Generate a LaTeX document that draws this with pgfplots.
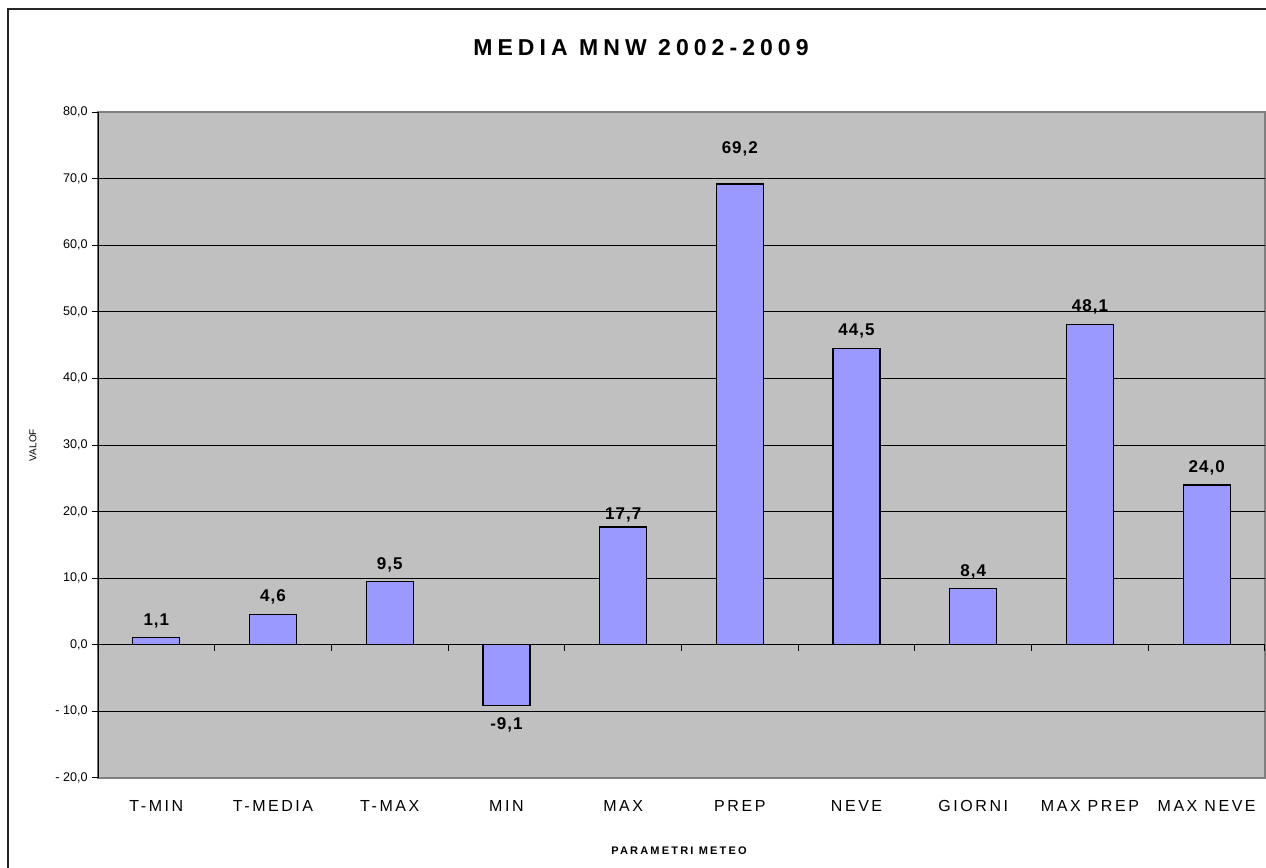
\documentclass[border=0pt]{standalone}
\usepackage{fontspec}
\setmainfont{Liberation Sans}
\usepackage{pgfplots}
\pgfplotsset{compat=1.18}
\usepackage{pgfplotstable}

\definecolor{plotbg}{HTML}{C0C0C0}
\definecolor{barfill}{HTML}{9999FF}
\definecolor{framegray}{HTML}{808080}

% x: category index, y: mean value, off: label offset above/below the bar (pt)
\pgfplotstableread{
x y off
0 1.1 8.5
1 4.6 8.5
2 9.5 8.5
3 -9.1 -9.5
4 17.7 6
5 69.2 17.5
6 44.5 8.5
7 8.4 8.5
8 48.1 9
9 24.0 8.5
}\meteodata

\begin{document}
\begin{tikzpicture}[x=1pt,y=1pt]
\clip (0,0) rectangle (633,434);
\fill[white] (0,0) rectangle (633,434);
\draw[line width=1pt, black!85] (4,-20) rectangle (660,429.5);

\begin{axis}[
  at={(49pt,45pt)}, anchor=south west, scale only axis,
  width=583.5pt, height=333pt,
  xmin=-0.5, xmax=9.5, ymin=-20, ymax=80,
  axis background/.style={fill=plotbg, draw=framegray, line width=0.6pt},
  axis line style={draw=none},
  ymajorgrids, major grid style={black, line width=0.5pt},
  tick align=outside, major tick length=3pt,
  ytick={-20,-10,...,80}, ytick pos=left,
  yticklabels={{- 20,0},{- 10,0},{0,0},{10,0},{20,0},{30,0},{40,0},{50,0},{60,0},{70,0},{80,0}},
  y tick style={black, line width=0.5pt},
  yticklabel style={font=\fontsize{6.3}{7.5}\selectfont, anchor=east, inner sep=0pt, xshift=-2pt},
  xtick={0,...,9}, x tick style={draw=none},
  xticklabels={T-MIN, T-MEDIA, T-MAX, MIN, MAX, PREP, NEVE, GIORNI, MAX PREP, MAX NEVE},
  xticklabel style={font=\fontsize{8}{9.6}\selectfont\addfontfeature{LetterSpace=16}, anchor=center, yshift=-11pt},
  /pgf/number format/assume math mode=true,
]
\addplot[ybar, bar width=23.5pt, fill=barfill, draw=black, line width=0.6pt,
  point meta=y,
  visualization depends on={\thisrow{off}\as\off},
  nodes near coords={\pgfmathprintnumber[fixed, fixed zerofill, precision=1, use comma, assume math mode=true]{\pgfplotspointmeta}},
  nodes near coords style={anchor=center, yshift=\off pt, inner sep=0pt,
    font=\bfseries\fontsize{8.5}{10}\selectfont\addfontfeature{LetterSpace=6}},
] table[x=x, y=y] {\meteodata};

% boundary ticks on the zero line
\pgfplotsinvokeforeach{-0.5,0.5,...,9.5}{
  \draw[black, line width=0.5pt] (axis cs:#1,0) -- ([yshift=-3pt]axis cs:#1,0);
}
% frame: black value axis, gray top and bottom edges
\draw[framegray, line width=0.6pt] (rel axis cs:0,1) -- (rel axis cs:1,1);
\draw[framegray, line width=0.6pt] (rel axis cs:0,0) -- (rel axis cs:1,0);
\draw[black, line width=0.6pt] (rel axis cs:0,0) -- (rel axis cs:0,1);
\end{axis}

\node[font=\bfseries\fontsize{11.5}{13}\selectfont\addfontfeature{LetterSpace=22}] at (320.5,410) {MEDIA MNW 2002-2009};
\node[font=\bfseries\fontsize{5.5}{6.6}\selectfont\addfontfeature{LetterSpace=20}] at (339.5,8.5) {PARAMETRI METEO};
\node[font=\fontsize{5}{6}\selectfont, rotate=90] at (16.5,211.5) {VALOF};
\end{tikzpicture}
\end{document}
